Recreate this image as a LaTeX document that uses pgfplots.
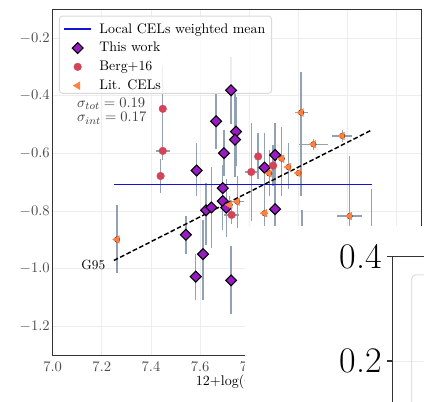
\documentclass[border=0pt]{standalone}
\usepackage{pgfplots}
\pgfplotsset{compat=1.18}
\usepackage{pgfplotstable}

\definecolor{twc}{RGB}{153,27,196}
\definecolor{bergc}{RGB}{212,68,88}
\definecolor{litc}{RGB}{255,128,64}
\definecolor{errc}{RGB}{146,161,180}
\definecolor{meanblue}{RGB}{20,20,210}

\pgfplotstableread{
x y ex eyp eym
7.726 -0.381 0 0.117 0.118
7.665 -0.488 0 0.093 0.097
7.746 -0.524 0 0.12 0.12
7.742 -0.552 0 0.16 0.13
7.697 -0.599 0 0.08 0.08
7.586 -0.659 0 0.095 0.09
7.905 -0.605 0 0.11 0.11
7.862 -0.649 0 0.12 0.12
7.692 -0.720 0 0.08 0.08
7.692 -0.765 0 0.10 0.10
7.624 -0.797 0 0.095 0.12
7.646 -0.787 0 0.14 0.14
7.706 -0.788 0 0.10 0.10
7.905 -0.793 0 0.12 0.12
7.542 -0.882 0 0.065 0.067
7.612 -0.949 0 0.12 0.16
7.582 -1.027 0 0.078 0.08
7.726 -1.040 0 0.12 0.115
}\thiswork

\pgfplotstableread{
x y ex eyp eym
7.448 -0.445 0 0.15 0.145
7.448 -0.591 0.028 0.03 0.03
7.439 -0.678 0 0.06 0.06
7.836 -0.610 0 0.08 0.08
7.808 -0.664 0.027 0.17 0.17
7.897 -0.642 0 0.07 0.07
7.728 -0.813 0.03 0.03 0.03
}\berg

\pgfplotstableread{
x y ex eyp eym
7.262 -0.898 0 0.118 0.118
8.011 -0.458 0.027 0.14 0.29
8.061 -0.568 0.06 0.02 0.02
8.178 -0.539 0.04 0.02 0.02
7.932 -0.618 0 0.11 0.13
7.959 -0.647 0 0.085 0.075
8.000 -0.668 0 0 0
7.881 -0.669 0 0.08 0.08
7.751 -0.767 0.027 0.09 0.09
7.862 -0.807 0 0.1 0.1
8.208 -0.817 0.05 0.208 0.208
7.720 -0.778 0 0.03 0.03
8.296 -1.000 0 0.276 0.2
8.015 -0.950 0 0.155 0.155
}\lit

\begin{document}
\begin{tikzpicture}
\begin{axis}[
  at={(39.5pt,293.75pt)}, anchor=north west,
  width=276.5pt, height=259.5pt, scale only axis,
  xmin=7, xmax=8.5, ymin=-1.3, ymax=-0.1,
  xtick={7,7.2,7.4,7.6,7.8,8,8.2,8.4},
  xticklabels={$7.0$,$7.2$,$7.4$,$7.6$,$7.8$,,,},
  ytick={-1.2,-1,-0.8,-0.6,-0.4,-0.2},
  major tick length=0pt,
  grid=major,
  grid style={black!7, line width=0.7pt},
  axis line style={black!80, line width=0.8pt},
  tick label style={font=\fontsize{10.5}{12}\selectfont, text=black!70},
  xticklabel style={yshift=-1.5pt},
  yticklabel style={/pgf/number format/fixed, /pgf/number format/fixed zerofill, /pgf/number format/precision=1, xshift=1.3pt},
  xlabel={12+log(O/H)},
  xlabel style={at={(axis description cs:0.5,0)}, anchor=center, yshift=-20pt, font=\fontsize{10.5}{12}\selectfont},
  legend cell align=left,
  legend image code/.code={\draw[mark repeat=2,mark phase=2,#1] plot coordinates {(0pt,0pt)(10.25pt,0pt)(20.5pt,0pt)};},
  legend style={at={(0.019,0.975)}, anchor=north west, draw=none, fill=none,
    font=\fontsize{10.4}{12}\selectfont,
    inner xsep=2.5pt, inner ysep=1.8pt, row sep=1.4pt,
    /tikz/every odd column/.append style={column sep=3.5pt}},
]
% error bars first
\addplot[only marks, mark=none, forget plot, error bars/.cd, x dir=both, x explicit, y dir=both, y explicit, error mark=none, error bar style={draw=errc, line width=1pt, solid}] table[x=x,y=y,x error=ex,y error plus=eyp,y error minus=eym] {\thiswork};
\addplot[only marks, mark=none, forget plot, error bars/.cd, x dir=both, x explicit, y dir=both, y explicit, error mark=none, error bar style={draw=errc, line width=1pt, solid}] table[x=x,y=y,x error=ex,y error plus=eyp,y error minus=eym] {\berg};
\addplot[only marks, mark=none, forget plot, error bars/.cd, x dir=both, x explicit, y dir=both, y explicit, error mark=none, error bar style={draw=errc, line width=1pt, solid}] table[x=x,y=y,x error=ex,y error plus=eyp,y error minus=eym] {\lit};

% semi-transparent legend frame (drawn below the markers, as in the reference)
\filldraw[fill=white, fill opacity=0.82, draw=black!15, line width=0.7pt, rounded corners=2.5pt]
  (rel axis cs:0.018,0.757) rectangle (rel axis cs:0.594,0.9806);

\addplot[draw=meanblue, color=meanblue, line width=1.1pt, forget plot] coordinates {(7.25,-0.708) (8.3,-0.708)};
\addplot[black, line width=1.1pt, dash pattern=on 3.5pt off 1.8pt, forget plot] coordinates {(7.249,-0.971) (8.297,-0.519)};

\addplot[only marks, forget plot, mark=square*, mark size=2.9pt, mark options={rotate=45, fill=twc, draw=black, line width=0.8pt}] table[x=x,y=y] {\thiswork};
\addplot[only marks, forget plot, mark=*, mark size=2.9pt, mark options={fill=bergc, draw=bergc, line width=0.2pt}] table[x=x,y=y] {\berg};
\addplot[only marks, forget plot, mark=triangle*, mark size=3.4pt, mark options={rotate=90, fill=litc, draw=litc, line width=0.2pt}] table[x=x,y=y] {\lit};

\addlegendimage{draw=meanblue, line width=1.1pt, mark=none}
\addlegendentry{Local CELs weighted mean}
\addlegendimage{only marks, mark=square*, mark size=2.9pt, mark options={rotate=45, fill=twc, draw=black, line width=0.8pt}}
\addlegendentry{This work}
\addlegendimage{only marks, mark=*, mark size=2.9pt, mark options={fill=bergc, draw=bergc, line width=0.2pt}}
\addlegendentry{Berg+16}
\addlegendimage{only marks, mark=triangle*, mark size=3.4pt, mark options={rotate=90, fill=litc, draw=litc, line width=0.2pt}}
\addlegendentry{Lit. CELs}

\node[anchor=west, inner sep=0pt, text=black!75, font=\fontsize{11}{13}\selectfont] at (axis cs:7.0985,-0.4267) {$\sigma_{tot} = 0.19$};
\node[anchor=west, inner sep=0pt, text=black!75, font=\fontsize{11}{13}\selectfont] at (axis cs:7.0985,-0.478) {$\sigma_{int} = 0.17$};
\node[anchor=east, inner sep=0pt, font=\fontsize{10}{12}\selectfont] at (axis cs:7.215,-0.985) {G95};
\end{axis}

\fill[white] (183.75pt,-2pt) rectangle (330pt,131.25pt);

\begin{axis}[
  at={(294.5pt,108.25pt)}, anchor=north west,
  width=300pt, height=156.45pt, scale only axis,
  xmin=0, xmax=1, ymin=0, ymax=0.4,
  xtick=\empty, ytick={0.2,0.4}, yticklabels={0.2,0.4},
  tick align=outside, major tick length=4pt,
  tick style={black!80, line width=0.8pt},
  ymajorgrids, grid style={black!7, line width=0.7pt},
  axis line style={black!80, line width=1pt},
  yticklabel style={font=\fontsize{27}{30}\selectfont, inner sep=0pt, xshift=-4pt},
]
\addplot[draw=none, forget plot] coordinates {(0,0.1)};
\draw[black!12, line width=0.8pt, rounded corners=3pt] ([xshift=14.25pt,yshift=-13.7pt]rel axis cs:0,1) rectangle ++(200pt,-200pt);
\end{axis}

\pgfresetboundingbox
\useasboundingbox (0,0) rectangle (318pt,300.75pt);
\end{tikzpicture}
\end{document}
